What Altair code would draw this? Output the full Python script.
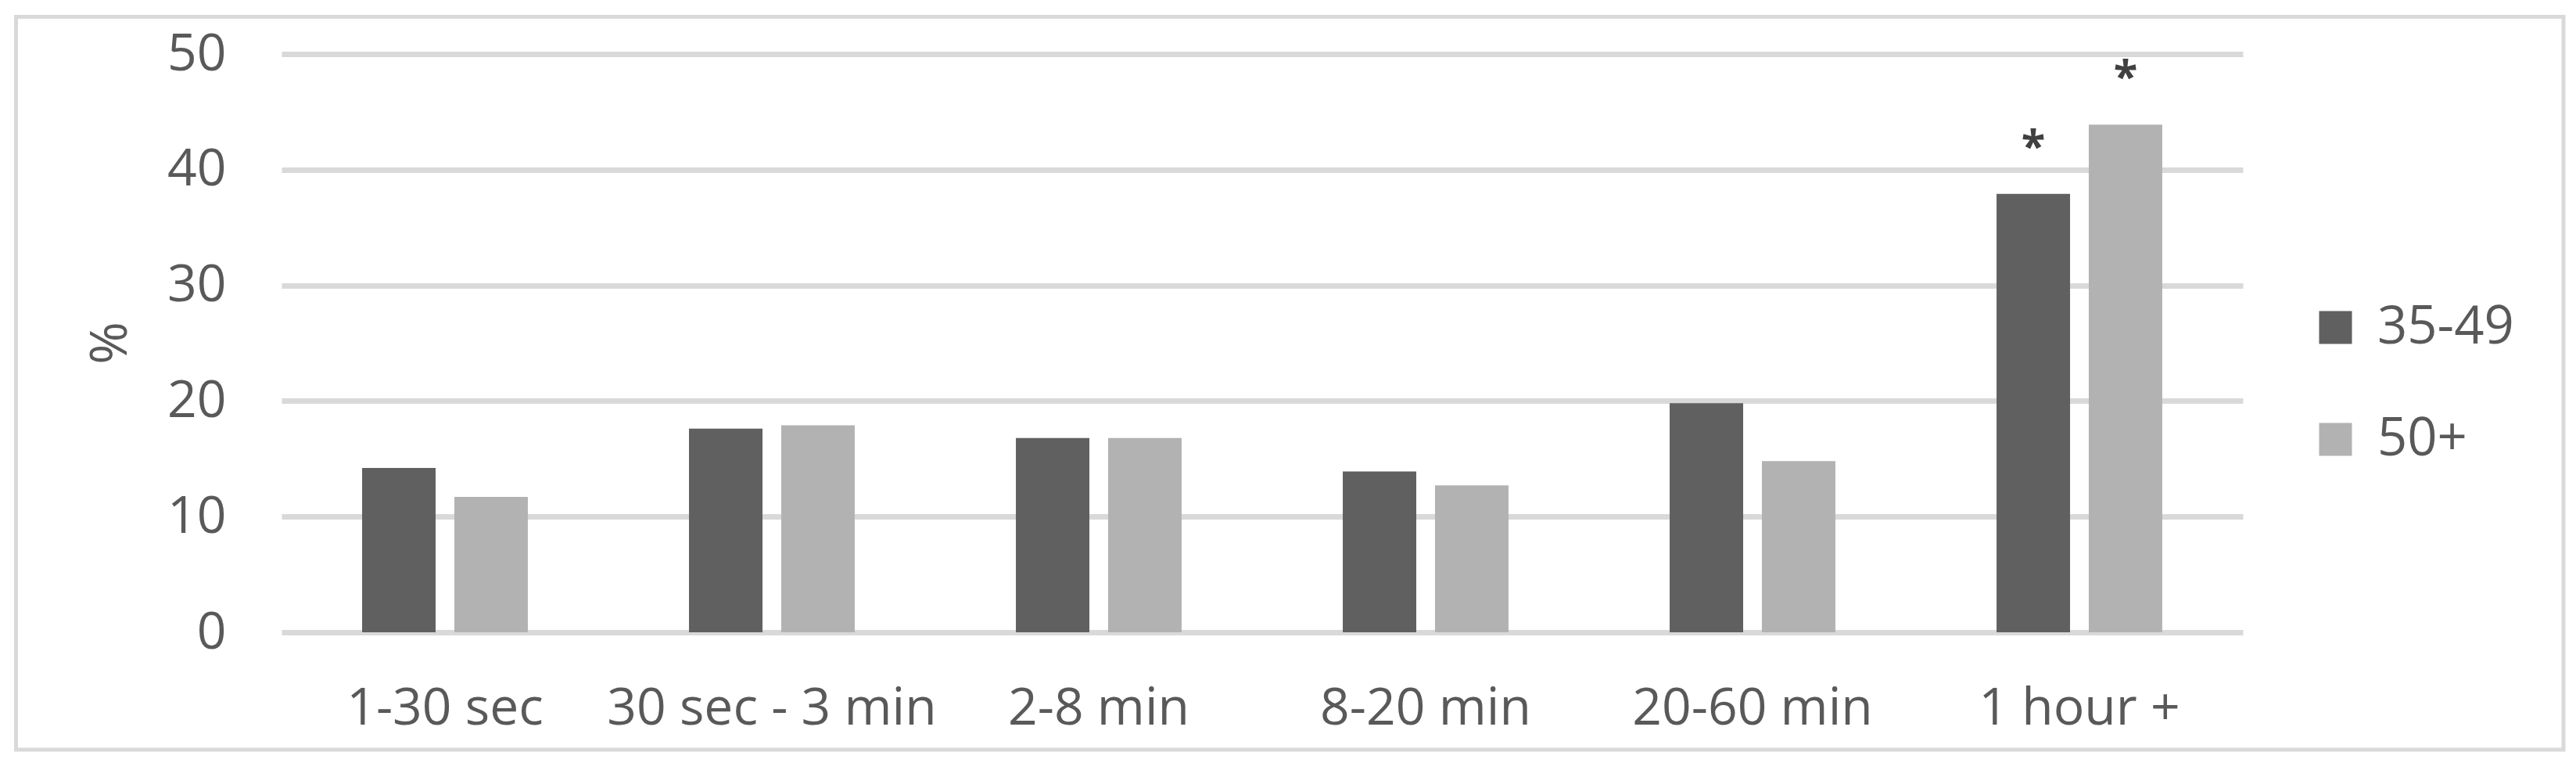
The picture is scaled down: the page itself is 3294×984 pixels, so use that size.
import altair as alt
import pandas as pd

categories = ["1-30 sec", "30 sec - 3 min", "2-8 min", "8-20 min", "20-60 min", "1 hour +"]
groups = ["35-49", "50+"]
values_35_49 = [14.2, 17.6, 16.8, 13.9, 19.8, 37.9]
values_50_plus = [11.7, 17.9, 16.8, 12.7, 14.8, 43.9]
sig_35_49 = ["", "", "", "", "", "*"]
sig_50_plus = ["", "", "", "", "", "*"]
y_ticks = [0, 10, 20, 30, 40, 50]

rows = []
for c, v, s in zip(categories, values_35_49, sig_35_49):
    rows.append({"cat": c, "group": groups[0], "value": v, "sig": s})
for c, v, s in zip(categories, values_50_plus, sig_50_plus):
    rows.append({"cat": c, "group": groups[1], "value": v, "sig": s})
df = pd.DataFrame(rows)

FONT = "Open Sans"
TXT = "#595959"

x_enc = alt.X(
    "cat:N",
    sort=categories,
    scale=alt.Scale(paddingInner=0.493, paddingOuter=0.2465),
    axis=alt.Axis(
        title=None, labelAngle=0, domain=False, ticks=False, tickSize=0,
        labelPadding=65, labelFontSize=66, labelFont=FONT, labelColor=TXT,
        grid=False, labelLimit=1000, labelOverlap=False,
    ),
)
xo_enc = alt.XOffset("group:N", sort=groups, scale=alt.Scale(paddingInner=0.203, paddingOuter=0))
y_enc = alt.Y(
    "value:Q",
    scale=alt.Scale(domain=[0, 50], nice=False),
    axis=alt.Axis(
        values=y_ticks, grid=True, gridColor="#d9d9d9", gridWidth=7,
        domain=False, ticks=False, tickSize=0, labelPadding=71,
        labelFontSize=66, labelFont=FONT, labelColor=TXT,
        title="%", titleFontSize=66, titleFont=FONT, titleFontWeight="normal",
        titleColor=TXT, titleX=-219, titleY=369, titleAngle=270,
        titleAlign="center", titleBaseline="middle",
    ),
)

base = alt.Chart(df).encode(x=x_enc, xOffset=xo_enc, y=y_enc)

bars = base.mark_bar().encode(
    color=alt.Color(
        "group:N",
        sort=groups,
        scale=alt.Scale(domain=groups, range=["#606060", "#b2b2b2"]),
        legend=alt.Legend(
            title=None, orient="none", legendX=2593, legendY=316,
            symbolType="square", symbolSize=1764, symbolStrokeWidth=0,
            labelFontSize=67, labelFont=FONT, labelColor=TXT, labelLimit=1000,
            labelOffset=20, rowPadding=75, padding=0,
        ),
    )
)

stars = base.mark_text(
    font=FONT, fontSize=56, fontWeight="bold", color="#404040",
    baseline="alphabetic", align="center", dy=-42,
).encode(text="sig:N")

border = alt.Chart(alt.Data(values=[{"a": 1}])).mark_rect(
    fillOpacity=0, stroke="#d9d9d9", strokeWidth=5
).encode(
    x=alt.value(-339.5), x2=alt.value(2918), y=alt.value(-47.5), y2=alt.value(889)
)

chart = alt.layer(border, bars, stars).properties(
    width=2508, height=739,
    autosize=alt.AutoSizeParams(type="none"),
    padding={"left": 352, "top": 61, "right": 418, "bottom": 168},
    background="white",
).configure_view(stroke=None)

chart.save("out.html", embed_options={"renderer": "svg", "actions": False})
